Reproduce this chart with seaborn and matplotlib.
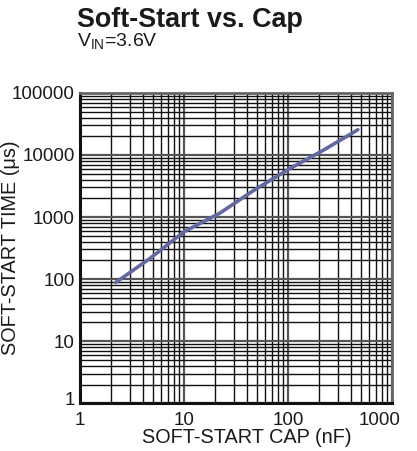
import numpy as np
import pandas as pd
import seaborn as sns
import matplotlib.pyplot as plt
from matplotlib.transforms import ScaledTranslation
from matplotlib.ticker import LogLocator, FixedLocator, FixedFormatter, NullFormatter

# valores
cap_nf = [2.2, 4.7, 10, 22, 47, 100, 220, 470]
tempo_us = [88, 215, 580, 1150, 2700, 5800, 12000, 25500]

x_ticks = [1, 10, 100, 1000]
x_labels = ["1", "10", "100", "1000"]
y_ticks = [1, 10, 100, 1000, 10000, 100000]
y_labels = ["1", "10", "100", "1000", "10000", "100000"]

sns.set_theme(style="white")
plt.rcParams['font.family'] = ['Liberation Sans', 'DejaVu Sans']
plt.rcParams['mathtext.fontset'] = 'custom'
plt.rcParams['mathtext.rm'] = 'Liberation Sans'

df = pd.DataFrame({'cap': cap_nf, 'tempo': tempo_us})

fig = plt.figure(figsize=(4.17, 4.51), dpi=100)
ax = fig.add_axes([0.192, 0.106, 0.748, 0.688])

sns.lineplot(data=df, x='cap', y='tempo', ax=ax, color='#6268a0', linewidth=2.6)

ax.set_xscale('log')
ax.set_yscale('log')
ax.set_xlim(1, 1000)
ax.set_ylim(1, 100000)

ax.xaxis.set_major_locator(FixedLocator(x_ticks))
ax.xaxis.set_major_formatter(FixedFormatter(x_labels))
ax.yaxis.set_major_locator(FixedLocator(y_ticks))
ax.yaxis.set_major_formatter(FixedFormatter(y_labels))
ax.xaxis.set_minor_locator(LogLocator(base=10, subs=np.arange(2, 10)))
ax.yaxis.set_minor_locator(LogLocator(base=10, subs=np.arange(2, 10)))
ax.xaxis.set_minor_formatter(NullFormatter())
ax.yaxis.set_minor_formatter(NullFormatter())

ax.grid(which='major', color='#555555', linewidth=1.6)
ax.grid(which='minor', color='#111111', linewidth=1.0)
ax.tick_params(which='both', length=0, labelsize=13.5, colors='#1a1a1a')
ax.tick_params(axis='y', pad=4)
ax.tick_params(axis='x', pad=6)

# o rótulo "1000" fica deslocado para a esquerda no original
ult = ax.get_xticklabels()[-1]
ult.set_transform(ult.get_transform() + ScaledTranslation(-0.12, 0, fig.dpi_scale_trans))
prim = ax.get_yticklabels()[0]
prim.set_transform(prim.get_transform() + ScaledTranslation(0, 0.05, fig.dpi_scale_trans))

for lado in ['left', 'bottom']:
    ax.spines[lado].set_color('#111111')
    ax.spines[lado].set_linewidth(2.2)
for lado in ['top', 'right']:
    ax.spines[lado].set_color('#666666')
    ax.spines[lado].set_linewidth(2.0)

ax.set_xlabel('SOFT-START CAP (nF)', fontsize=14.3, color='#1a1a1a', va='center')
ax.xaxis.set_label_coords(0.534, -0.111)
ax.set_ylabel('SOFT-START TIME (μs)', fontsize=14.3, color='#1a1a1a', va='center')
ax.yaxis.set_label_coords(-0.222, 0.5)

fig.text(0.185, 0.955, 'Soft-Start vs. Cap', fontsize=19.4, fontweight='bold',
         color='#1a1a1a', va='center', ha='left')
fig.text(0.185, 0.907, r'V$_{\rm IN}$=3.6V', fontsize=14, color='#1a1a1a',
         va='center', ha='left')

plt.savefig('out.png', dpi=100)
